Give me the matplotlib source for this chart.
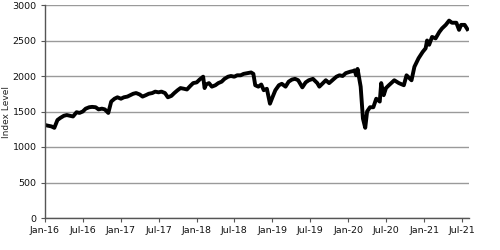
import matplotlib
matplotlib.use('Agg')
import matplotlib.pyplot as plt
import matplotlib.dates as mdates
import pandas as pd

# index level, roughly twice a month
dates = [
    '2016-01-01', '2016-01-15', '2016-02-01', '2016-02-15', '2016-03-01', '2016-03-15',
    '2016-04-01', '2016-04-15', '2016-05-01', '2016-05-15', '2016-06-01', '2016-06-15',
    '2016-07-01', '2016-07-15', '2016-08-01', '2016-08-15', '2016-09-01', '2016-09-15',
    '2016-10-01', '2016-10-15', '2016-11-01', '2016-11-15', '2016-12-01', '2016-12-15',
    '2017-01-01', '2017-01-15', '2017-02-01', '2017-02-15', '2017-03-01', '2017-03-15',
    '2017-04-01', '2017-04-15', '2017-05-01', '2017-05-15', '2017-06-01', '2017-06-15',
    '2017-07-01', '2017-07-15', '2017-08-01', '2017-08-15', '2017-09-01', '2017-09-15',
    '2017-10-01', '2017-10-15', '2017-11-01', '2017-11-15', '2017-12-01', '2017-12-15',
    '2018-01-01', '2018-01-15', '2018-02-01', '2018-02-08', '2018-02-15', '2018-03-01',
    '2018-03-15', '2018-04-01', '2018-04-15', '2018-05-01', '2018-05-15', '2018-06-01',
    '2018-06-15', '2018-07-01', '2018-07-15', '2018-08-01', '2018-08-15', '2018-09-01',
    '2018-09-20', '2018-10-01', '2018-10-10', '2018-10-25', '2018-11-08', '2018-11-20',
    '2018-12-05', '2018-12-20', '2019-01-01', '2019-01-15', '2019-02-01', '2019-02-15',
    '2019-03-05', '2019-03-20', '2019-04-05', '2019-04-20', '2019-05-05', '2019-05-25',
    '2019-06-10', '2019-06-25', '2019-07-15', '2019-08-05', '2019-08-15', '2019-09-01',
    '2019-09-15', '2019-10-01', '2019-10-20', '2019-11-05', '2019-11-20', '2019-12-05',
    '2019-12-20', '2020-01-10', '2020-01-25', '2020-02-01', '2020-02-08', '2020-02-15',
    '2020-03-01', '2020-03-12', '2020-03-23', '2020-04-01', '2020-04-15', '2020-05-01',
    '2020-05-15', '2020-06-01', '2020-06-08', '2020-06-20', '2020-07-01', '2020-07-15',
    '2020-08-10', '2020-09-01', '2020-09-25', '2020-10-08', '2020-11-01', '2020-11-15',
    '2020-12-05', '2020-12-25', '2021-01-08', '2021-01-15', '2021-01-25', '2021-02-08',
    '2021-02-25', '2021-03-15', '2021-03-28', '2021-04-15', '2021-05-01', '2021-05-15',
    '2021-06-05', '2021-06-18', '2021-06-28', '2021-07-15', '2021-07-28',
]
index_level = [
    1310, 1300, 1290, 1270, 1380, 1410,
    1440, 1450, 1440, 1430, 1490, 1480,
    1500, 1540, 1560, 1565, 1560, 1530,
    1540, 1530, 1480, 1640, 1680, 1700,
    1680, 1700, 1710, 1730, 1750, 1760,
    1740, 1710, 1730, 1750, 1760, 1780,
    1770, 1780, 1760, 1700, 1720, 1760,
    1800, 1830, 1820, 1810, 1860, 1900,
    1910, 1950, 1990, 1830, 1880, 1900,
    1850, 1870, 1900, 1920, 1960, 1990,
    2000, 1990, 2010, 2010, 2030, 2040,
    2050, 2030, 1870, 1850, 1880, 1800,
    1820, 1610, 1700, 1800, 1870, 1890,
    1850, 1920, 1950, 1960, 1940, 1840,
    1910, 1940, 1960, 1900, 1850, 1900,
    1940, 1900, 1950, 1990, 2010, 2000,
    2040, 2060, 2070, 2080, 2010, 2100,
    1850, 1400, 1270, 1500, 1560, 1560,
    1680, 1640, 1900, 1730, 1830, 1870,
    1940, 1900, 1870, 2010, 1940, 2130,
    2250, 2340, 2390, 2500, 2440, 2550,
    2530, 2620, 2670, 2720, 2780, 2750,
    2750, 2650, 2720, 2720, 2660,
]
y_ticks = [0, 500, 1000, 1500, 2000, 2500, 3000]

df = pd.DataFrame({'level': index_level}, index=pd.to_datetime(dates))

fig = plt.figure(figsize=(5, 2.5), dpi=100)
ax = fig.add_axes([0.09, 0.128, 0.848, 0.852])

ax.plot(df.index, df['level'], color='black', linewidth=2.8, solid_joinstyle='round')

ax.set_ylim(0, 3000)
ax.set_yticks(y_ticks)
ax.set_xlim(pd.Timestamp('2016-01-01'), pd.Timestamp('2021-08-05'))
ax.xaxis.set_major_locator(mdates.MonthLocator(bymonth=[1, 7]))
ax.xaxis.set_major_formatter(mdates.DateFormatter('%b-%y'))

ax.grid(axis='y', color='#9a9a9a', linewidth=1.0)
ax.set_axisbelow(True)
for side in ['top', 'right']:
    ax.spines[side].set_visible(False)
for side in ['left', 'bottom']:
    ax.spines[side].set_color('#555555')
    ax.spines[side].set_linewidth(1.0)
ax.tick_params(axis='both', labelsize=6.8, colors='#555555', labelcolor='#111111',
               length=3, width=0.8, pad=3)
ax.set_ylabel('Index Level', fontsize=6.5, color='#222222')
ax.yaxis.set_label_coords(-0.08, 0.5)

fig.savefig('out.png', dpi=100)
